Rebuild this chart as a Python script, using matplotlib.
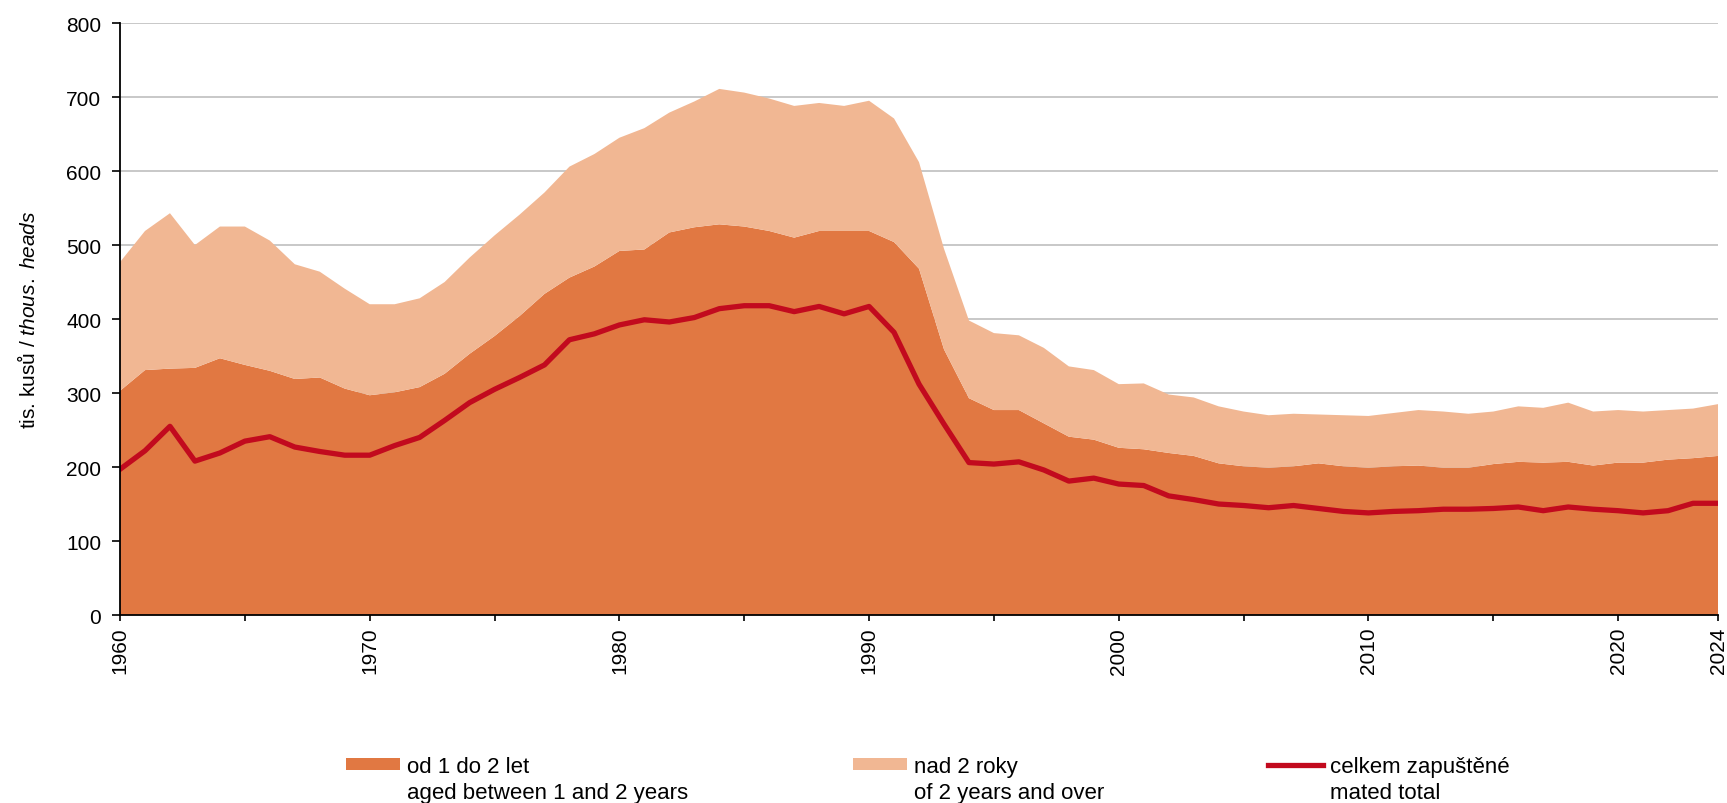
import numpy as np
import matplotlib
matplotlib.use("Agg")
import matplotlib.pyplot as plt
from matplotlib.patches import Patch
from matplotlib.lines import Line2D

plt.rcParams['font.family'] = ['Liberation Sans', 'DejaVu Sans']
plt.rcParams['mathtext.fontset'] = 'custom'
plt.rcParams['mathtext.rm'] = 'Liberation Sans'
plt.rcParams['mathtext.it'] = 'Liberation Sans:italic'

years = list(range(1960, 2025))

# od 1 do 2 let (tis. kusu)
young = [303, 331, 333, 334, 347, 338, 330, 319, 321, 306,
         297, 301, 308, 326, 353, 377, 404, 434, 456, 471,
         492, 494, 517, 524, 528, 525, 519, 510, 519, 519,
         519, 504, 468, 359, 293, 277, 277, 259, 241, 237,
         226, 224, 219, 215, 205, 201, 199, 201, 205, 201,
         199, 201, 202, 199, 199, 204, 207, 206, 207, 202,
         206, 206, 210, 212, 215]

# nad 2 roky
old = [174, 188, 210, 166, 178, 187, 176, 155, 143, 135,
       123, 119, 120, 124, 130, 136, 137, 137, 150, 152,
       153, 164, 162, 170, 183, 181, 179, 178, 173, 169,
       176, 167, 144, 136, 105, 104, 101, 102, 95, 94,
       86, 89, 79, 79, 77, 74, 71, 71, 66, 69,
       70, 72, 75, 76, 73, 71, 75, 74, 80, 73,
       71, 69, 67, 67, 70]

# celkem zapustene
mated = [197, 222, 255, 208, 219, 235, 241, 227, 221, 216,
         216, 229, 240, 263, 287, 305, 321, 338, 372, 380,
         392, 399, 396, 402, 414, 418, 418, 410, 417, 407,
         417, 382, 312, 258, 206, 204, 207, 196, 181, 185,
         177, 175, 161, 156, 150, 148, 145, 148, 144, 140,
         138, 140, 141, 143, 143, 144, 146, 141, 146, 143,
         141, 138, 141, 151, 151]

labels = ["od 1 do 2 let", "aged between 1 and 2 years",
          "nad 2 roky", "of 2 years and over",
          "celkem zapuštěné", "mated total"]
year_ticks = [1960, 1965, 1970, 1975, 1980, 1985, 1990, 1995, 2000,
              2005, 2010, 2015, 2020, 2024]
year_labels = ["1960", "", "1970", "", "1980", "", "1990", "", "2000",
               "", "2010", "", "2020", "2024"]

c_young = '#E17842'
c_old = '#F1B793'
c_red = '#C20A1E'

fig = plt.figure(figsize=(17.27, 8.04), dpi=100)
ax = fig.add_axes([0.0695, 0.2338, 0.9253, 0.7363])

ax.stackplot(years, young, old, colors=[c_young, c_old], linewidth=0, zorder=2)
ax.plot(years, mated, color=c_red, lw=3.8, zorder=3, solid_joinstyle='round')

ax.set_xlim(1960, 2024)
ax.set_ylim(0, 800)
ax.set_yticks(range(0, 801, 100))
ax.set_xticks(year_ticks)
ax.set_xticklabels(year_labels, rotation=90)
ax.yaxis.grid(True, color='#c4c4c4', lw=1.3, zorder=0)
ax.set_axisbelow(True)

for s in ['top', 'right']:
    ax.spines[s].set_visible(False)
for s in ['left', 'bottom']:
    ax.spines[s].set_linewidth(1.3)
    ax.spines[s].set_zorder(4)
ax.tick_params(axis='y', length=5.5, width=1.2, pad=8, labelsize=15)
ax.tick_params(axis='x', length=4.5, width=1.2, pad=4, labelsize=15)

ax.set_ylabel(r"tis. kusů / $\it{thous.\ heads}$", fontsize=15)
ax.yaxis.set_label_coords(-0.051, 0.5)

# legend, two rows per column
blank = Patch(facecolor='none', edgecolor='none')
handles = [Patch(facecolor=c_young, edgecolor='none'), blank,
           Patch(facecolor=c_old, edgecolor='none'), blank,
           Line2D([], [], color=c_red, lw=3.8), blank]
fig.legend(handles, labels, ncol=3, loc='upper left',
           bbox_to_anchor=(0.2003, 0.059), frameon=False, fontsize=16,
           handlelength=2.45, handleheight=0.45, handletextpad=0.3,
           columnspacing=7.4, labelspacing=0.25, borderpad=0,
           borderaxespad=0)

fig.savefig("out.png", dpi=100)
